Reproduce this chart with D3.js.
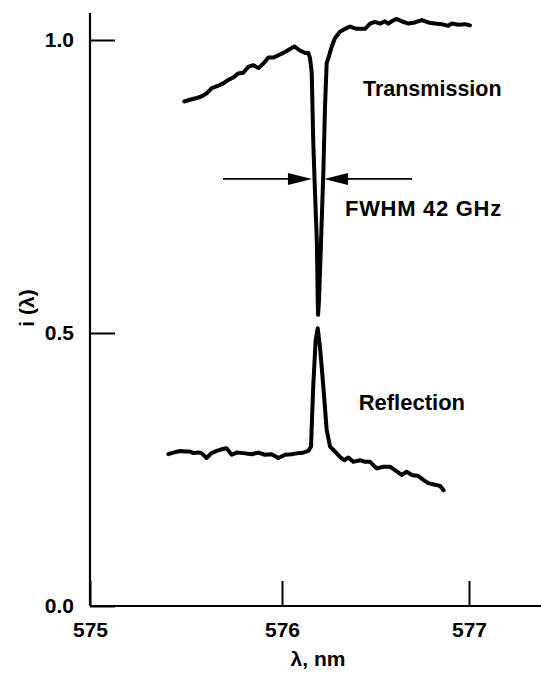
<!DOCTYPE html>
<html>
<head>
<meta charset="utf-8">
<script src="https://cdn.jsdelivr.net/npm/d3@7"></script>
<style>
  html, body { margin: 0; padding: 0; background: #fff; }
  svg { display: block; }
  text { font-family: "Liberation Sans", Arial, Helvetica, sans-serif; font-weight: bold; fill: #000; }
</style>
</head>
<body>
<svg id="chart" width="541" height="677"></svg>
<script>
// ---- data ----
const transLambda = [575.491,575.521,575.556,575.582,575.608,575.634,575.668,575.694,575.720,575.746,575.772,575.798,575.824,575.851,575.877,575.903,575.929,575.955,575.981,576.007,576.034,576.066,576.096,576.123,576.141,576.150,576.159,576.167,576.176,576.186,576.189,576.191,576.193,576.198,576.203,576.212,576.221,576.230,576.239,576.248,576.266,576.283,576.310,576.337,576.364,576.399,576.444,576.471,576.497,576.524,576.551,576.568,576.587,576.613,576.640,576.676,576.711,576.747,576.782,576.818,576.854,576.889,576.907,576.943,576.979,577.005];
const transValue  = [0.895,0.898,0.901,0.904,0.909,0.918,0.922,0.926,0.932,0.936,0.943,0.944,0.954,0.957,0.952,0.960,0.970,0.970,0.974,0.978,0.983,0.989,0.982,0.978,0.978,0.969,0.944,0.829,0.744,0.659,0.602,0.556,0.531,0.556,0.602,0.688,0.773,0.886,0.961,0.969,0.989,1.003,1.014,1.019,1.023,1.019,1.019,1.028,1.031,1.028,1.032,1.028,1.032,1.036,1.032,1.028,1.030,1.034,1.030,1.028,1.027,1.024,1.028,1.026,1.027,1.025];

const reflLambda = [575.408,575.434,575.469,575.495,575.521,575.538,575.564,575.581,575.607,575.633,575.660,575.685,575.711,575.738,575.764,575.798,575.842,575.877,575.911,575.946,575.981,576.016,576.052,576.087,576.105,576.141,576.155,576.167,576.180,576.191,576.203,576.221,576.239,576.257,576.283,576.310,576.333,576.355,576.381,576.417,576.444,576.471,576.506,576.542,576.578,576.604,576.640,576.667,576.694,576.729,576.756,576.782,576.818,576.845,576.864];
const reflValue  = [0.278,0.281,0.284,0.283,0.283,0.280,0.281,0.280,0.271,0.280,0.284,0.287,0.289,0.277,0.281,0.280,0.278,0.281,0.277,0.278,0.271,0.277,0.278,0.280,0.280,0.284,0.292,0.402,0.487,0.508,0.475,0.402,0.322,0.292,0.283,0.273,0.267,0.272,0.264,0.267,0.264,0.264,0.252,0.255,0.255,0.249,0.240,0.246,0.240,0.238,0.231,0.225,0.222,0.220,0.212];

const xTicks = [575, 576, 577];
const xTickLabels = ["575", "576", "577"];
const yTicks = [0, 0.5, 1.0];
const yTickLabels = ["0.0", "0.5", "1.0"];

// FWHM marker: [left end, left tip, right tip, right end] in nm, at height fwhmLevel
const fwhmLambda = [575.693, 576.160, 576.225, 576.695];
const fwhmLevel = 0.763;

const labelTexts = ["Transmission", "FWHM 42 GHz", "Reflection"];
const labelLambda = [576.433, 576.337, 576.410];
const labelValue = [0.904, 0.700, 0.359];

// ---- scales (reference axis is slightly non-uniform, so piecewise) ----
const x = d3.scaleLinear().domain([575, 576, 577]).range([90, 282, 469]);
const y = d3.scaleLinear().domain([0, 0.5, 1.0]).range([606, 333, 40]);

const svg = d3.select("#chart");

// axis lines
svg.append("line").attr("x1", x(575)).attr("x2", 541).attr("y1", y(0)).attr("y2", y(0))
  .attr("stroke", "#000").attr("stroke-width", 2.2);
svg.append("line").attr("x1", x(575)).attr("x2", x(575)).attr("y1", 13).attr("y2", y(0))
  .attr("stroke", "#000").attr("stroke-width", 2.2);

// x axis
const xAxis = d3.axisBottom(x).tickValues(xTicks)
  .tickFormat((d, i) => xTickLabels[i]).tickSizeInner(-25).tickSizeOuter(0).tickPadding(16);
const gx = svg.append("g").attr("transform", `translate(0,${y(0)})`).call(xAxis);
gx.select(".domain").remove();
gx.selectAll(".tick line").attr("stroke", "#000").attr("stroke-width", 2);
gx.selectAll(".tick text").attr("font-size", 21).attr("font-family", null);

// y axis
const yAxis = d3.axisLeft(y).tickValues(yTicks)
  .tickFormat((d, i) => yTickLabels[i]).tickSizeInner(-25).tickSizeOuter(0).tickPadding(16);
const gy = svg.append("g").attr("transform", `translate(${x(575)},0)`).call(yAxis);
gy.select(".domain").remove();
gy.selectAll(".tick line").attr("stroke", "#000").attr("stroke-width", 2);
gy.selectAll(".tick text").attr("font-size", 21).attr("font-family", null);

// axis titles
svg.append("text").attr("x", 318).attr("y", 666).attr("text-anchor", "middle")
  .attr("font-size", 21).text("λ, nm");
svg.append("text").attr("transform", "translate(34,308) rotate(-90)")
  .attr("text-anchor", "middle").attr("font-size", 21).text("i (λ)");

// curves
const line = d3.line().x(d => x(d[0])).y(d => y(d[1]));
const trans = transLambda.map((l, i) => [l, transValue[i]]);
const refl = reflLambda.map((l, i) => [l, reflValue[i]]);
[trans, refl].forEach(data => {
  svg.append("path").datum(data).attr("d", line)
    .attr("fill", "none").attr("stroke", "#000").attr("stroke-width", 4)
    .attr("stroke-linejoin", "round").attr("stroke-linecap", "round");
});

// FWHM arrows
const ay = y(fwhmLevel);
svg.append("line").attr("x1", x(fwhmLambda[0])).attr("x2", x(fwhmLambda[1]) - 20)
  .attr("y1", ay).attr("y2", ay).attr("stroke", "#000").attr("stroke-width", 1.8);
svg.append("line").attr("x1", x(fwhmLambda[2]) + 20).attr("x2", x(fwhmLambda[3]))
  .attr("y1", ay).attr("y2", ay).attr("stroke", "#000").attr("stroke-width", 1.8);
const lt = x(fwhmLambda[1]), rt = x(fwhmLambda[2]);
svg.append("path").attr("d", `M${lt},${ay} L${lt - 24},${ay - 6} L${lt - 24},${ay + 6} Z`).attr("fill", "#000");
svg.append("path").attr("d", `M${rt},${ay} L${rt + 24},${ay - 6} L${rt + 24},${ay + 6} Z`).attr("fill", "#000");

// curve labels
const labelSizes = [21.5, 22, 22];
const labelSpacing = [0, 0.7, 0];
labelTexts.forEach((t, i) => {
  svg.append("text").attr("x", x(labelLambda[i])).attr("y", y(labelValue[i]))
    .attr("font-size", labelSizes[i]).attr("letter-spacing", labelSpacing[i]).text(t);
});
</script>
</body>
</html>
